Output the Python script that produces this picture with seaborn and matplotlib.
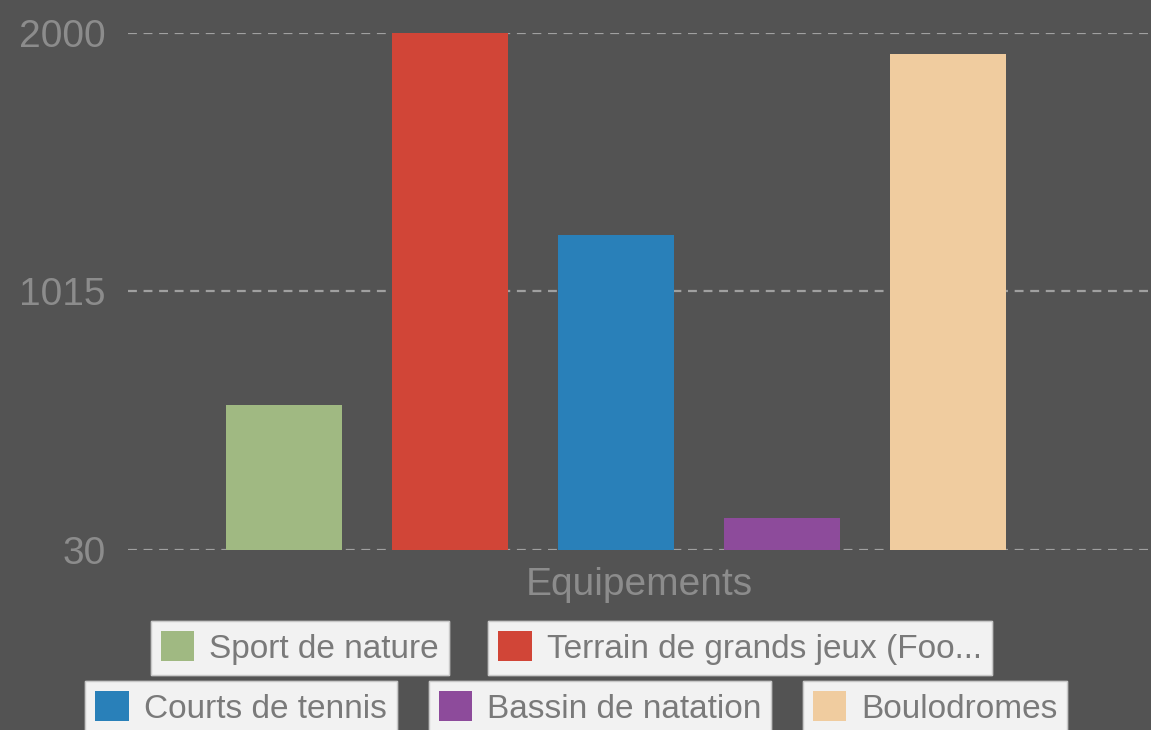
import seaborn as sns
import matplotlib.pyplot as plt
import pandas as pd

categories = ["Sport de nature", "Terrain de grands jeux (Foo...", "Courts de tennis",
              "Bassin de natation", "Boulodromes"]
values = [582, 2000, 1230, 152, 1918]
colors = ["#a0b982", "#d14537", "#2980b9", "#8d4b9b", "#f0cc9f"]
yticks = [30, 1015, 2000]

bg = "#535353"
grey = "#8c8c8c"

sns.set_style("dark")
plt.rcParams['font.family'] = ['Liberation Sans', 'DejaVu Sans']

df = pd.DataFrame({"cat": categories, "val": values})

fig = plt.figure(figsize=(11.51, 7.30), dpi=100, facecolor=bg)
ax = fig.add_axes([0.111, 0.2466, 0.889, 0.7084])
ax.set_facecolor(bg)

sns.barplot(data=df, x="cat", y="val", hue="cat", palette=colors, legend=False,
            width=0.7, saturation=1, linewidth=0, ax=ax, zorder=2)

ax.set_ylim(30, 2000)
ax.set_xlim(-0.94, 5.22)
ax.set_yticks(yticks)
ax.set_yticklabels([str(v) for v in yticks])
ax.set_xticks([])
ax.tick_params(axis='y', colors=grey, labelsize=28, length=0, pad=16)
ax.set_ylabel("")
ax.set_xlabel("Equipements", color=grey, fontsize=28, labelpad=12)
ax.set_axisbelow(True)
ax.yaxis.grid(True, color="#a0a0a0", linestyle=(0, (4, 3)), linewidth=1.6)
ax.xaxis.grid(False)
for s in ax.spines.values():
    s.set_visible(False)

# one framed legend box per category, two rows
handles = [c.patches[0] for c in ax.containers]
centers = [(300, 648), (740, 648), (241, 708), (600, 708), (935, 708)]
for h, lab, (cx, cy) in zip(handles, categories, centers):
    leg = fig.legend([h], [lab], loc="center",
                     bbox_to_anchor=(cx / 1151, 1 - cy / 730),
                     fontsize=24, frameon=True, fancybox=False,
                     facecolor="#f2f2f2", edgecolor="#c8c8c8", framealpha=1,
                     handlelength=1.0, handleheight=1.0, handletextpad=0.45,
                     borderpad=0.3, borderaxespad=0)
    for t in leg.get_texts():
        t.set_color("#7a7a7a")
    fig.add_artist(leg)

fig.savefig("out.png", dpi=100, facecolor=bg)
